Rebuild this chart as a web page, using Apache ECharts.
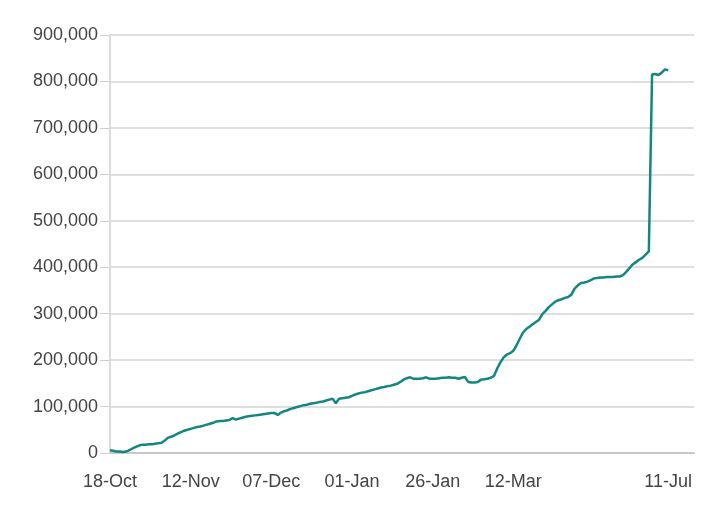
<!DOCTYPE HTML>
<html><head>
<meta charset="utf-8">
<title>chart</title>
<script src="https://cdn.jsdelivr.net/npm/echarts@6/dist/echarts.min.js"></script>
<style>
html, body { margin:0; padding:0; background:#fff; }
#main { width:714px; height:509px; }
</style>
</head>
<body>
<div id="main"></div>
<script type="text/javascript">
// x axis: one slot per report, labels only at a few of them
var slotCount = 182;
var tickIndex = [0, 25, 50, 75, 100, 125, 173];
var tickLabels = ['18-Oct', '12-Nov', '07-Dec', '01-Jan', '26-Jan', '12-Mar', '11-Jul'];

// y axis ticks
var yTicks = [0, 100000, 200000, 300000, 400000, 500000, 600000, 700000, 800000, 900000];

// cumulative total
var totals = [
  6000, 5000, 3000, 3000, 2000, 3000, 6000, 10000, 13000, 16000,
  18000, 18000, 19000, 19000, 20000, 21000, 22000, 27000, 33000, 35000,
  38000, 42000, 45000, 48000, 50000, 52000, 54000, 56000, 57000, 59000,
  61000, 63000, 65000, 68000, 69000, 69000, 70000, 71000, 75000, 72000,
  74000, 76000, 78000, 79000, 80000, 81000, 82000, 83000, 84000, 85000,
  86000, 86000, 82000, 87000, 90000, 92000, 95000, 97000, 99000, 101000,
  103000, 104000, 106000, 107000, 108000, 110000, 111000, 113000, 115000, 117000,
  107000, 117000, 118000, 119000, 120000, 123000, 126000, 128000, 130000, 131000,
  133000, 135000, 137000, 139000, 141000, 142000, 144000, 145000, 147000, 149000,
  153000, 158000, 161000, 163000, 160000, 160000, 160000, 161000, 163000, 160000,
  160000, 160000, 161000, 162000, 162000, 163000, 162000, 162000, 160000, 162000,
  164000, 153000, 152000, 152000, 153000, 158000, 159000, 160000, 162000, 166000,
  182000, 195000, 206000, 212000, 215000, 220000, 232000, 246000, 259000, 267000,
  272000, 277000, 282000, 287000, 299000, 306000, 314000, 320000, 326000, 329000,
  331000, 334000, 336000, 341000, 354000, 361000, 366000, 367000, 369000, 372000,
  376000, 377000, 378000, 378000, 379000, 379000, 379000, 380000, 380000, 383000,
  390000, 398000, 406000, 411000, 416000, 420000, 427000, 434000, 815000, 816000,
  814000, 819000, 826000, 824000
];

var slots = [];
for (var i = 0; i < slotCount; i++) {
  slots.push(String(i));
}

var myChart = echarts.init(document.getElementById('main'));

option = {
    animation: false,
    grid: {
        left: 110,
        right: 20,
        top: 35,
        bottom: 56
    },
    xAxis: {
        type: 'category',
        data: slots,
        boundaryGap: false,
        axisLine: { lineStyle: { color: '#c8c8c8', width: 2 } },
        axisTick: { show: false },
        axisLabel: {
            interval: function (idx) { return tickIndex.indexOf(idx) >= 0; },
            formatter: function (v, idx) {
                var k = tickIndex.indexOf(idx);
                return k >= 0 ? tickLabels[k] : '';
            },
            color: '#444',
            fontFamily: 'Liberation Sans',
            fontSize: 18,
            margin: 20
        },
        splitLine: { show: false }
    },
    yAxis: {
        type: 'value',
        min: yTicks[0],
        max: yTicks[yTicks.length - 1],
        interval: yTicks[1] - yTicks[0],
        axisLine: { show: true, lineStyle: { color: '#dcdcdc', width: 2 } },
        axisTick: { show: true, length: 10, lineStyle: { color: '#d0d0d0', width: 1 } },
        axisLabel: {
            formatter: function (v) { return v.toLocaleString('en-US'); },
            color: '#444',
            fontFamily: 'Liberation Sans',
            fontSize: 18,
            margin: 12
        },
        splitLine: { lineStyle: { color: '#dedede', width: 2 } }
    },
    series: [
        {
            type: 'line',
            data: totals,
            showSymbol: false,
            symbol: 'none',
            lineStyle: { color: '#13877f', width: 2.5 },
            itemStyle: { color: '#13877f' }
        }
    ]
};

myChart.setOption(option);
</script>
</body>
</html>
